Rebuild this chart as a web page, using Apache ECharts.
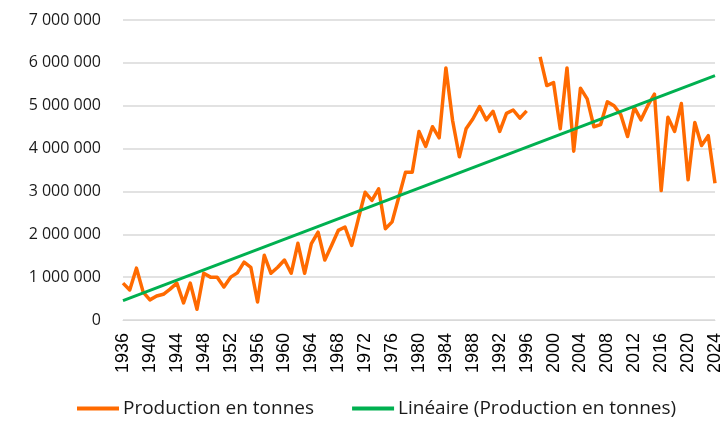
<!DOCTYPE html>
<html>
<head>
<meta charset="utf-8">
<script src="https://cdn.jsdelivr.net/npm/echarts@6/dist/echarts.min.js"></script>
<style>
  html, body { margin: 0; padding: 0; background: #fff; }
  #chart { width: 725px; height: 426px; }
</style>
</head>
<body>
<div id="chart"></div>
<script>
const years = [];
for (let y = 1936; y <= 2024; y++) years.push(String(y));

// Production en tonnes (1997 missing)
const production = [
  860000, 700000, 1210000, 650000, 470000, 560000, 600000, 720000, 860000, 400000,   // 1936-1945
  860000, 250000, 1090000, 1000000, 1000000, 770000, 1000000, 1100000, 1350000, 1230000, // 1946-1955
  420000, 1510000, 1090000, 1230000, 1400000, 1090000, 1790000, 1090000, 1780000, 2050000, // 1956-1965
  1400000, 1740000, 2090000, 2170000, 1740000, 2370000, 2980000, 2790000, 3060000, 2130000, // 1966-1975
  2290000, 2870000, 3450000, 3450000, 4400000, 4050000, 4510000, 4250000, 5880000, 4650000, // 1976-1985
  3810000, 4460000, 4690000, 4980000, 4670000, 4870000, 4400000, 4820000, 4900000, 4710000, // 1986-1995
  4880000, null, 6140000, 5470000, 5540000, 4460000, 5880000, 3940000, 5410000, 5160000, // 1996-2005
  4510000, 4560000, 5090000, 5000000, 4790000, 4280000, 4960000, 4670000, 5000000, 5270000, // 2006-2015
  3020000, 4730000, 4400000, 5050000, 3270000, 4610000, 4070000, 4300000, 3190000          // 2016-2024
];

// Linear trend endpoints
const trendStart = ['1936', 450000];
const trendEnd = ['2024', 5700000];

const fmt = v => String(v).replace(/\B(?=(\d{3})+(?!\d))/g, ' ');

const myChart = echarts.init(document.getElementById('chart'));
const option = {
  backgroundColor: '#fff',
  animation: false,
  grid: { left: 123, right: 10, top: 20, bottom: 106 },
  legend: {
    bottom: 3,
    left: 72,
    itemWidth: 42,
    itemHeight: 4,
    itemGap: 38,
    icon: 'rect',
    textStyle: { fontFamily: 'Open Sans', fontSize: 19, color: '#1a1a1a', padding: [0, 0, 0, -1] },
    data: ['Production en tonnes', 'Linéaire (Production en tonnes)']
  },
  xAxis: {
    type: 'category',
    data: years,
    boundaryGap: false,
    axisLine: { show: true, lineStyle: { color: '#d9d9d9' } },
    axisTick: { show: false },
    axisLabel: {
      interval: 3,
      rotate: 90,
      margin: 13,
      fontFamily: 'Liberation Sans',
      fontSize: 18,
      color: '#000'
    }
  },
  yAxis: {
    type: 'value',
    min: 0,
    max: 7000000,
    interval: 1000000,
    axisLine: { show: false },
    axisTick: { show: false },
    splitLine: { lineStyle: { color: '#d9d9d9', width: 1.5 } },
    axisLabel: {
      margin: 22,
      fontFamily: 'Open Sans',
      fontSize: 16,
      color: '#1a1a1a',
      formatter: fmt
    }
  },
  series: [
    {
      name: 'Production en tonnes',
      type: 'line',
      data: production,
      connectNulls: false,
      symbol: 'none',
      lineStyle: { color: '#ff6a00', width: 3.5, join: 'round' },
      itemStyle: { color: '#ff6a00' }
    },
    {
      name: 'Linéaire (Production en tonnes)',
      type: 'line',
      data: [trendStart, trendEnd],
      symbol: 'none',
      lineStyle: { color: '#00b050', width: 3 },
      itemStyle: { color: '#00b050' }
    }
  ]
};
myChart.setOption(option);
</script>
</body>
</html>
